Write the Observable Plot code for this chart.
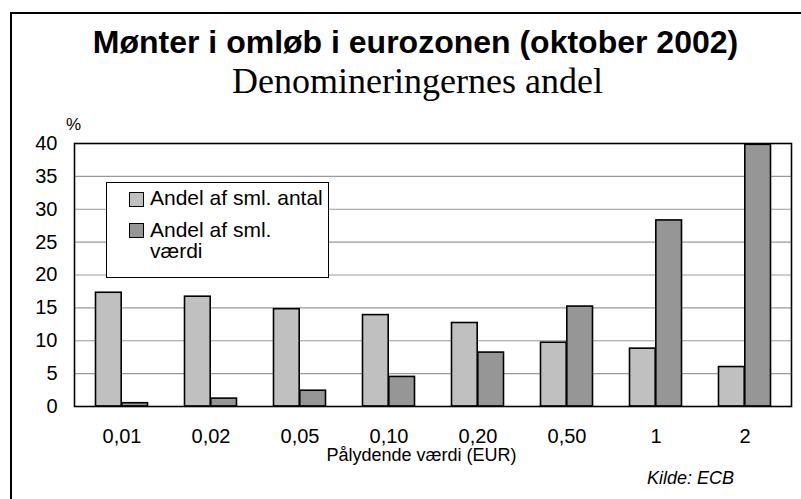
<!DOCTYPE html>
<html>
<head>
<meta charset="utf-8">
<script src="https://cdn.jsdelivr.net/npm/d3@7"></script>
<script src="https://cdn.jsdelivr.net/npm/@observablehq/plot@0.6"></script>
<style>
  html, body { margin: 0; padding: 0; background: #fff; }
  #wrap { position: relative; width: 801px; height: 499px; overflow: hidden; background: #fff;
          font-family: "Liberation Sans", Arial, sans-serif; color: #000; }
  #outer { position: absolute; left: 10px; top: 12px; width: 900px; height: 600px;
           border-left: 2px solid #000; border-top: 2px solid #000; }
  .abs { position: absolute; white-space: nowrap; }
  #title { left: 0; width: 831px; text-align: center; top: 25.5px; font-weight: bold; font-size: 32px; line-height: 32px; }
  #subtitle { left: 0; width: 835px; text-align: center; top: 65.5px; font-family: "Liberation Serif", "Times New Roman", serif; font-size: 36px; line-height: 30px; }
  #pct { left: 66px; top: 115px; font-size: 17px; line-height: 20px; }
  #xlabel { left: 74px; width: 695px; text-align: center; top: 444px; font-size: 18px; line-height: 22px; }
  #source { left: 647px; top: 467px; font-size: 18px; font-style: italic; line-height: 22px; }
  #legend { left: 106px; top: 182px; width: 221px; height: 94px; border: 1px solid #000; background: #fff; }
  .sw { position: absolute; width: 13px; height: 13px; border: 1px solid #000; }
  .lt { position: absolute; font-size: 21px; line-height: 21.6px; }
  #chart { position: absolute; left: 0; top: 0; }
</style>
</head>
<body>
<div id="wrap">
  <div id="outer"></div>
  <div id="chart"></div>
  <div id="title" class="abs"></div>
  <div id="subtitle" class="abs"></div>
  <div id="pct" class="abs">%</div>
  <div id="xlabel" class="abs"></div>
  <div id="source" class="abs"></div>
  <div id="legend" class="abs"></div>
</div>
<script>
// ---- data ----
const denominations = ["0,01", "0,02", "0,05", "0,10", "0,20", "0,50", "1", "2"];
const shareOfCount = [17.3, 16.7, 14.8, 13.9, 12.7, 9.7, 8.8, 6.0];
const shareOfValue = [0.5, 1.2, 2.4, 4.5, 8.2, 15.2, 28.3, 39.8];
const seriesNames = ["Andel af sml. antal", "Andel af sml. værdi"];
const seriesLegendLines = [["Andel af sml. antal"], ["Andel af sml.", "værdi"]];
const yTicks = [0, 5, 10, 15, 20, 25, 30, 35, 40];
const titleText = "Mønter i omløb i eurozonen (oktober 2002)";
const subtitleText = "Denomineringernes andel";
const xAxisLabel = "Pålydende værdi (EUR)";
const sourceText = "Kilde: ECB";

const colors = ["#c0c0c0", "#969696"];

const countRows = denominations.map((d, i) => ({denomination: d, series: seriesNames[0], value: shareOfCount[i]}));
const valueRows = denominations.map((d, i) => ({denomination: d, series: seriesNames[1], value: shareOfValue[i]}));

const chart = Plot.plot({
  width: 801,
  height: 499,
  marginLeft: 74,
  marginRight: 10,
  marginTop: 143,
  marginBottom: 93,
  style: {fontFamily: "'Liberation Sans', Arial, sans-serif", fontSize: "20px", color: "#000", background: "transparent", overflow: "visible"},
  x: {domain: denominations, padding: 0, label: null, tickSize: 0, tickPadding: 22},
  y: {domain: [0, 40], ticks: yTicks, tickSize: 0, tickPadding: 17, label: null},
  marks: [
    Plot.ruleY(yTicks.filter(t => t > 0 && t < 40), {stroke: "#999999", strokeWidth: 1.2}),
    Plot.barY(countRows, {x: "denomination", y: "value", fill: colors[0], stroke: "#000", strokeWidth: 1.6, insetLeft: 18.5, insetRight: 44.8}),
    Plot.barY(valueRows, {x: "denomination", y: "value", fill: colors[1], stroke: "#000", strokeWidth: 1.6, insetLeft: 44.8, insetRight: 18.5}),
    Plot.frame({stroke: "#000", strokeWidth: 1.6})
  ]
});
document.getElementById("chart").appendChild(chart);

document.getElementById("title").textContent = titleText;
document.getElementById("subtitle").textContent = subtitleText;
document.getElementById("xlabel").textContent = xAxisLabel;
document.getElementById("source").textContent = sourceText;

// legend
const legend = document.getElementById("legend");
const swatchTops = [9, 40];
const textTops = [4, 35.5];
seriesNames.forEach((name, i) => {
  const sw = document.createElement("div");
  sw.className = "sw";
  sw.style.left = "22px";
  sw.style.top = swatchTops[i] + "px";
  sw.style.background = colors[i];
  legend.appendChild(sw);
  const t = document.createElement("div");
  t.className = "lt";
  t.style.left = "43px";
  t.style.top = textTops[i] + "px";
  t.innerHTML = seriesLegendLines[i].join("<br>");
  legend.appendChild(t);
});
</script>
</body>
</html>
